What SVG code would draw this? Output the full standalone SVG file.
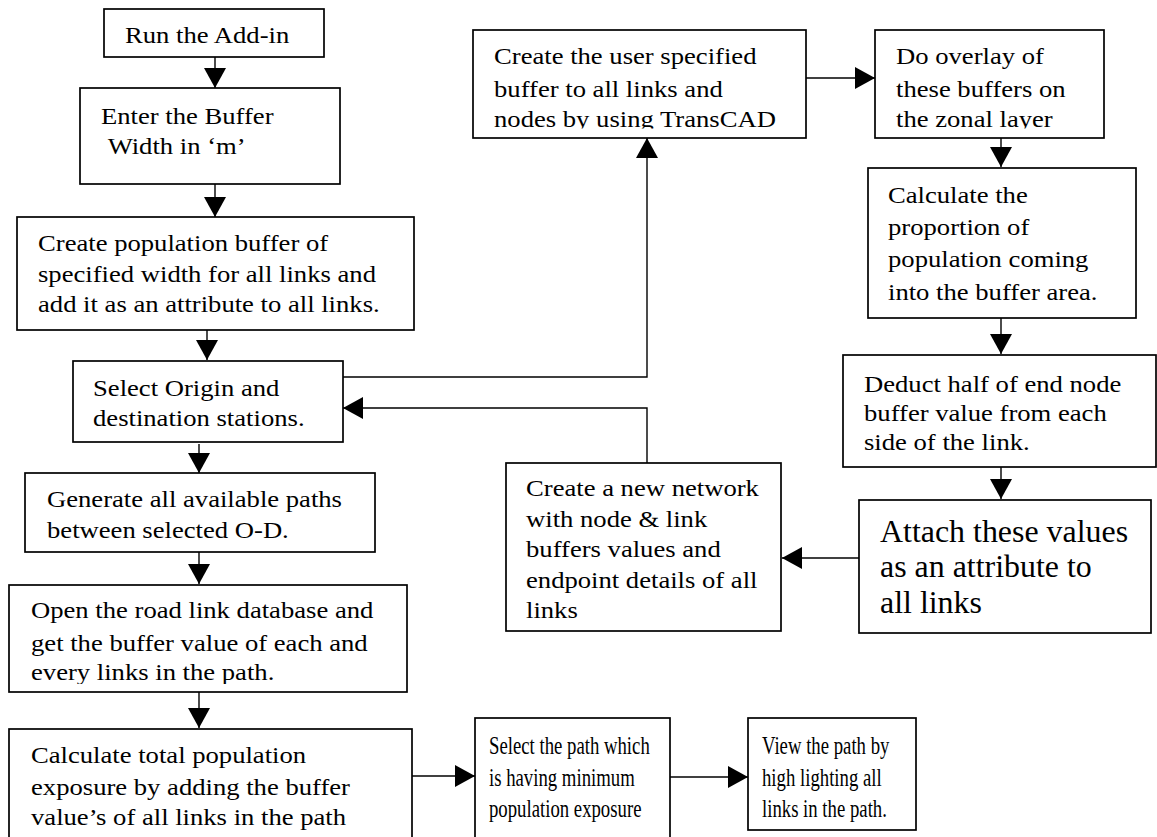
<svg xmlns="http://www.w3.org/2000/svg" width="1157" height="837" viewBox="0 0 1157 837">
<style>
.box{fill:#fff;stroke:#000;stroke-width:1.7}
.t{font-family:"Liberation Serif","Times New Roman",serif;font-size:24px;fill:#000}
.s{font-size:25px}
.b{font-size:31px}
.c{fill:none;stroke:#000;stroke-width:1.4}
</style>
<defs>
<marker id="ah" markerUnits="userSpaceOnUse" markerWidth="20" markerHeight="22" viewBox="0 0 20 22" refX="20" refY="11" orient="auto">
<path d="M0,0 L20,11 L0,22 z" fill="#000"/>
</marker>
<clipPath id="clip6"><rect x="0" y="580" width="420" height="104"/></clipPath>
<clipPath id="clip10"><rect x="470" y="28" width="340" height="100.5"/></clipPath>
<clipPath id="clip11"><rect x="870" y="28" width="240" height="100.5"/></clipPath>
</defs>
<rect width="1157" height="837" fill="#fff"/>

<g id="connectors">
<path class="c" d="M215,57 V88" marker-end="url(#ah)"/>
<path class="c" d="M215,184 V217" marker-end="url(#ah)"/>
<path class="c" d="M207,328 V360" marker-end="url(#ah)"/>
<path class="c" d="M199,444 V473" marker-end="url(#ah)"/>
<path class="c" d="M199,552 V584" marker-end="url(#ah)"/>
<path class="c" d="M199,692 V728" marker-end="url(#ah)"/>
<path class="c" d="M412,776 H475" marker-end="url(#ah)"/>
<path class="c" d="M670,777 H748" marker-end="url(#ah)"/>
<path class="c" d="M340,377 H647 V138" marker-end="url(#ah)"/>
<path class="c" d="M806,78 H875" marker-end="url(#ah)"/>
<path class="c" d="M1001,138 V167" marker-end="url(#ah)"/>
<path class="c" d="M1001,318 V354" marker-end="url(#ah)"/>
<path class="c" d="M1001,467 V499" marker-end="url(#ah)"/>
<path class="c" d="M859,558 H782" marker-end="url(#ah)"/>
<path class="c" d="M647,463 V408 H343" marker-end="url(#ah)"/>
</g>

<g id="n1">
<rect class="box" x="104" y="9" width="220" height="48"/>
<text class="t" transform="matrix(1.11 0 0 1 125 43)">Run the Add-in</text>
</g>
<g id="n2">
<rect class="box" x="80" y="88" width="260" height="96"/>
<text class="t" transform="matrix(1.11 0 0 1 101 124)"><tspan x="0" y="0">Enter the Buffer</tspan><tspan x="6" y="30">Width in ‘m’</tspan></text>
</g>
<g id="n3">
<rect class="box" x="17" y="217" width="397" height="113"/>
<text class="t" transform="matrix(1.11 0 0 1 38 250.7)"><tspan x="0" y="0">Create population buffer of</tspan><tspan x="0" y="31">specified width for all links and</tspan><tspan x="0" y="61">add it as an attribute to all links.</tspan></text>
</g>
<g id="n4">
<rect class="box" x="73" y="361" width="270" height="81"/>
<text class="t" transform="matrix(1.11 0 0 1 93 396)"><tspan x="0" y="0">Select Origin and</tspan><tspan x="0" y="30">destination stations.</tspan></text>
</g>
<g id="n5">
<rect class="box" x="25" y="473" width="350" height="79"/>
<text class="t" transform="matrix(1.11 0 0 1 47 507)"><tspan x="0" y="0">Generate all available paths</tspan><tspan x="0" y="31">between selected O-D.</tspan></text>
</g>
<g id="n6">
<rect class="box" x="9" y="585" width="398" height="107"/>
<g clip-path="url(#clip6)">
<text class="t" transform="matrix(1.11 0 0 1 31 618)"><tspan x="0" y="0">Open the road link database and</tspan><tspan x="0" y="33">get the buffer value of each and</tspan><tspan x="0" y="62">every links in the path.</tspan></text>
</g>
</g>
<g id="n7">
<rect class="box" x="9" y="729" width="403" height="120"/>
<text class="t" transform="matrix(1.11 0 0 1 31 763)"><tspan x="0" y="0">Calculate total population</tspan><tspan x="0" y="32">exposure by adding the buffer</tspan><tspan x="0" y="62">value’s of all links in the path</tspan></text>
</g>
<g id="n8">
<rect class="box" x="475" y="718" width="195" height="130"/>
<text class="t s" transform="matrix(0.75 0 0 1 489 754)"><tspan x="0" y="0">Select the path which</tspan><tspan x="0" y="32">is having minimum</tspan><tspan x="0" y="63">population exposure</tspan></text>
</g>
<g id="n9">
<rect class="box" x="748" y="718" width="168" height="112"/>
<text class="t s" transform="matrix(0.75 0 0 1 762 754)"><tspan x="0" y="0">View the path by</tspan><tspan x="0" y="32">high lighting all</tspan><tspan x="0" y="63">links in the path.</tspan></text>
</g>
<g id="n10">
<rect class="box" x="473" y="30" width="333" height="108"/>
<g clip-path="url(#clip10)">
<text class="t" transform="matrix(1.11 0 0 1 494 64)"><tspan x="0" y="0">Create the user specified</tspan><tspan x="0" y="33">buffer to all links and</tspan><tspan x="0" y="63">nodes by using TransCAD</tspan></text>
</g>
</g>
<g id="n11">
<rect class="box" x="875" y="30" width="229" height="108"/>
<g clip-path="url(#clip11)">
<text class="t" transform="matrix(1.11 0 0 1 896 64)"><tspan x="0" y="0">Do overlay of</tspan><tspan x="0" y="33">these buffers on</tspan><tspan x="0" y="63">the zonal layer</tspan></text>
</g>
</g>
<g id="n12">
<rect class="box" x="868" y="168" width="268" height="150"/>
<text class="t" transform="matrix(1.11 0 0 1 888 203)"><tspan x="0" y="0">Calculate the</tspan><tspan x="0" y="32">proportion of</tspan><tspan x="0" y="64">population coming</tspan><tspan x="0" y="97">into the buffer area.</tspan></text>
</g>
<g id="n13">
<rect class="box" x="843" y="355" width="313" height="112"/>
<text class="t" transform="matrix(1.11 0 0 1 864 392)"><tspan x="0" y="0">Deduct half of end node</tspan><tspan x="0" y="29">buffer value from each</tspan><tspan x="0" y="58">side of the link.</tspan></text>
</g>
<g id="n14">
<rect class="box" x="859" y="500" width="292" height="133"/>
<text class="t b" transform="matrix(1.03 0 0 1 880 542)"><tspan x="0" y="0">Attach these values</tspan><tspan x="0" y="35">as an attribute to</tspan><tspan x="0" y="71">all links</tspan></text>
</g>
<g id="n15">
<rect class="box" x="506" y="463" width="275" height="168"/>
<text class="t" transform="matrix(1.11 0 0 1 526 496)"><tspan x="0" y="0">Create a new network</tspan><tspan x="0" y="31">with node &amp; link</tspan><tspan x="0" y="61">buffers values and</tspan><tspan x="0" y="92">endpoint details of all</tspan><tspan x="0" y="122">links</tspan></text>
</g>
</svg>
